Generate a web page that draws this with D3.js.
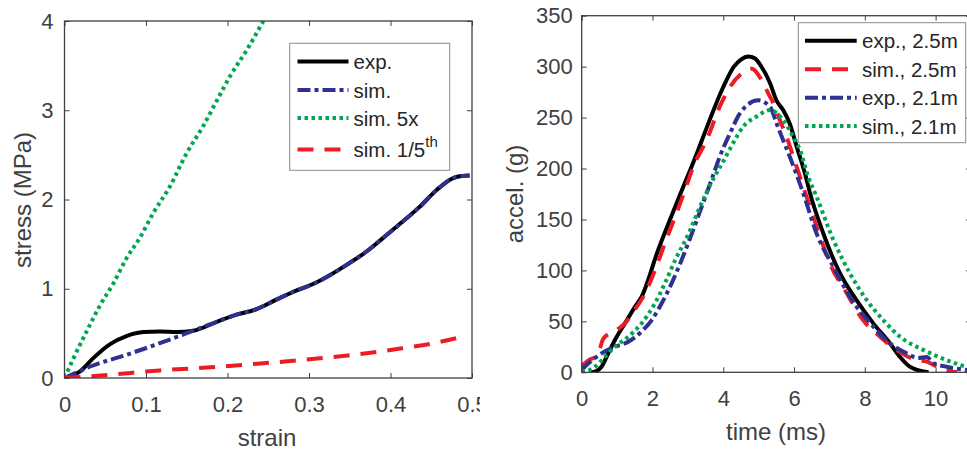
<!DOCTYPE html>
<html><head><meta charset="utf-8">
<script src="https://cdn.jsdelivr.net/npm/d3@7"></script>
<style>body{margin:0;background:#fff} svg{display:block} text{font-family:"Liberation Sans",Arial,sans-serif}</style>
</head><body><svg id="c" width="967" height="450"></svg>
<script>
// ---------- Left panel data (stress-strain) ----------
const strainExp = [0, 0.02, 0.035, 0.056, 0.076, 0.097, 0.117, 0.138, 0.158, 0.187, 0.211, 0.235, 0.245, 0.258, 0.277, 0.309, 0.35, 0.371, 0.391, 0.412, 0.436, 0.457, 0.477, 0.485, 0.497];
const stressExp = [0, 0.08, 0.22, 0.38, 0.47, 0.515, 0.52, 0.515, 0.53, 0.63, 0.71, 0.77, 0.81, 0.87, 0.95, 1.07, 1.29, 1.42, 1.57, 1.73, 1.92, 2.11, 2.24, 2.26, 2.27];
const strainSim = [0, 0.035, 0.076, 0.117, 0.158, 0.187, 0.211, 0.235, 0.245, 0.258, 0.277, 0.309, 0.35, 0.371, 0.391, 0.412, 0.436, 0.457, 0.477, 0.485, 0.497];
const stressSim = [0, 0.14, 0.26, 0.39, 0.53, 0.63, 0.71, 0.77, 0.81, 0.87, 0.95, 1.07, 1.29, 1.42, 1.57, 1.73, 1.92, 2.11, 2.24, 2.26, 2.27];
const strain5x = [0, 0.011, 0.027, 0.044, 0.06, 0.076, 0.093, 0.109, 0.129, 0.15, 0.17, 0.187, 0.203, 0.224, 0.244];
const stress5x = [0, 0.22, 0.52, 0.82, 1.06, 1.34, 1.58, 1.85, 2.14, 2.52, 2.82, 3.11, 3.38, 3.68, 4.0];
const strainFifth = [0, 0.048, 0.117, 0.179, 0.24, 0.289, 0.35, 0.412, 0.453, 0.485];
const stressFifth = [0, 0.03, 0.085, 0.12, 0.162, 0.2, 0.255, 0.33, 0.39, 0.455];
const leftLegend = ["exp.", "sim.", "sim. 5x", "sim. 1/5"];
const strainTicks = [0, 0.1, 0.2, 0.3, 0.4, 0.5];
const stressTicks = [0, 1, 2, 3, 4];

// ---------- Right panel data (acceleration-time) ----------
const tExp25 = [0.25, 0.4, 0.56, 0.75, 0.94, 1.22, 1.5, 1.69, 2.16, 2.73, 3.29, 3.62, 4.0, 4.3, 4.5, 4.71, 4.9, 5.04, 5.32, 5.5, 5.7, 5.88, 6.07, 6.31, 6.45, 6.83, 7.3, 7.76, 8.24, 8.71, 8.99, 9.27, 9.5, 9.8];
const aExp25 = [0, 1, 5.5, 18.6, 31.7, 48, 64, 74, 120, 170, 218, 248, 280, 300, 307, 310, 308, 302, 284, 267, 257, 244, 222, 195, 176, 136, 97, 71, 48, 28.5, 15.3, 5.5, 2, 0];
const tSim25 = [0, 0.2, 0.42, 0.52, 0.61, 0.99, 1.22, 1.46, 1.79, 2.07, 2.35, 2.64, 2.92, 3.15, 3.53, 3.9, 4.19, 4.47, 4.8, 5.08, 5.27, 5.46, 5.6, 5.79, 5.98, 6.26, 6.64, 7.01, 7.49, 7.95, 8.43, 8.9, 9.46, 9.75, 10.12, 10.6];
const aSim25 = [6, 12, 16, 24, 33, 41.5, 48, 59.5, 77.5, 100, 126.6, 152.7, 179, 201.8, 228, 260.7, 280, 291.8, 298, 287, 273.8, 260.7, 247.6, 231, 211.6, 182, 143, 107, 77.5, 51.3, 35, 22, 12, 10.5, 4, 0];
const tExp21 = [0, 0.19, 0.56, 0.94, 1.32, 1.69, 1.98, 2.26, 2.54, 2.82, 3.11, 3.39, 3.7, 3.9, 4.19, 4.47, 4.99, 5.32, 5.51, 5.69, 5.88, 6.26, 6.64, 7.11, 7.58, 8.24, 8.71, 9.18, 9.5, 9.75, 9.94, 10.31, 10.87, 11];
const aExp21 = [2.3, 8.8, 18.6, 25, 30, 40, 51.3, 67.7, 87.3, 110, 136, 162.5, 192, 211.6, 234.5, 254, 267, 260.7, 244, 228, 211.6, 175.7, 136, 103.6, 74, 44.8, 28.5, 18.6, 14, 15, 8.8, 5.5, 2.3, 2];
const tSim21 = [0, 0.09, 0.38, 0.66, 0.94, 1.32, 1.69, 2.07, 2.35, 2.64, 3.02, 3.3, 3.72, 4.0, 4.28, 4.56, 4.94, 5.32, 5.69, 5.98, 6.17, 6.4, 6.64, 7.11, 7.58, 8.05, 8.52, 8.99, 9.65, 10.31, 10.87, 11];
const aSim21 = [2, 1, 5.5, 15.3, 25, 35, 48, 67.7, 87.3, 110, 136, 159, 190, 207, 225, 241, 251, 257.4, 247.6, 231, 218, 192, 172, 130, 97, 71, 51.3, 35, 22, 12, 5.5, 4.5];
const rightLegend = ["exp., 2.5m", "sim., 2.5m", "exp., 2.1m", "sim., 2.1m"];
const timeTicks = [0, 2, 4, 6, 8, 10];
const accelTicks = [0, 50, 100, 150, 200, 250, 300, 350];

// ---------- styles ----------
const AX = "#404040";
const C = {black: "#000000", blue: "#2e3192", green: "#00a651", red: "#ed1c24"};
const DASH = {solid: null, dashdot: "13,4,4,4", dotted: "3.5,3.5", dashed: "16,11"};
const LW = 4;

const svg = d3.select("#c");
svg.append("rect").attr("width", 967).attr("height", 450).attr("fill", "#fff");

function zip(xs, ys) { return xs.map((v, i) => [v, ys[i]]); }

function panel(opts) {
  const g = svg.append("g");
  if (opts.bg) g.append("rect").attr("x", opts.bg[0]).attr("y", 0).attr("width", opts.bg[1]).attr("height", 450).attr("fill", "#fff");
  const x = d3.scaleLinear().domain(opts.xDom).range(opts.xRange);
  const y = d3.scaleLinear().domain(opts.yDom).range(opts.yRange);
  const [x0, x1] = opts.xRange, [y1, y0] = opts.yRange;
  const id = "clip" + opts.name;
  g.append("clipPath").attr("id", id).append("rect")
    .attr("x", x0).attr("y", y0).attr("width", x1 - x0).attr("height", y1 - y0);

  const line = d3.line().x(d => x(d[0])).y(d => y(d[1])).curve(d3.curveMonotoneX);
  const lg = g.append("g").attr("clip-path", `url(#${id})`);
  opts.series.forEach(s => {
    lg.append("path").attr("d", line(zip(s.x, s.y)))
      .attr("fill", "none").attr("stroke", s.color).attr("stroke-width", LW)
      .attr("stroke-linejoin", "round")
      .attr("stroke-dasharray", DASH[s.style]);
  });

  // axes
  const styleAxis = sel => {
    sel.select(".domain").remove();
    sel.selectAll(".tick line").attr("stroke", AX).attr("stroke-width", 1);
    sel.selectAll(".tick text").attr("fill", AX).attr("font-size", 22)
      .attr("font-family", '"Liberation Sans",Arial,sans-serif');
  };
  g.append("g").attr("transform", `translate(0,${y1})`)
    .call(d3.axisBottom(x).tickValues(opts.xTicks).tickSizeInner(-5).tickSizeOuter(0).tickPadding(opts.xPad).tickFormat(d3.format(opts.xFmt)))
    .call(styleAxis);
  g.append("g").attr("transform", `translate(0,${y0})`)
    .call(d3.axisTop(x).tickValues(opts.xTicks).tickSizeInner(-5).tickSizeOuter(0).tickFormat(""))
    .call(styleAxis);
  g.append("g").attr("transform", `translate(${x0},0)`)
    .call(d3.axisLeft(y).tickValues(opts.yTicks).tickSizeInner(-5).tickSizeOuter(0).tickPadding(opts.yPad).tickFormat(d3.format("d")))
    .call(styleAxis);
  g.append("g").attr("transform", `translate(${x1},0)`)
    .call(d3.axisRight(y).tickValues(opts.yTicks).tickSizeInner(-5).tickSizeOuter(0).tickFormat(""))
    .call(styleAxis);
  g.append("rect").attr("x", x0).attr("y", y0).attr("width", x1 - x0).attr("height", y1 - y0)
    .attr("fill", "none").attr("stroke", AX).attr("stroke-width", 1.3);

  // labels
  g.append("text").attr("x", opts.xLabel[1]).attr("y", opts.xLabel[2]).attr("text-anchor", "middle")
    .attr("font-size", 24).attr("fill", AX).text(opts.xLabel[0]);
  g.append("text").attr("transform", `translate(${opts.yLabel[1]},${opts.yLabel[2]}) rotate(-90)`)
    .attr("text-anchor", "middle").attr("font-size", 24).attr("fill", AX).text(opts.yLabel[0]);

  // legend
  const L = opts.legend;
  g.append("rect").attr("x", L.box[0]).attr("y", L.box[1]).attr("width", L.box[2]).attr("height", L.box[3])
    .attr("fill", "#fff").attr("stroke", "#8c8c8c").attr("stroke-width", 1);
  opts.series.forEach((s, i) => {
    const ly = L.ys[i];
    g.append("line").attr("x1", L.lx[0]).attr("x2", L.lx[1]).attr("y1", ly).attr("y2", ly)
      .attr("stroke", s.color).attr("stroke-width", LW).attr("stroke-dasharray", DASH[s.style]);
    const t = g.append("text").attr("x", L.tx).attr("y", ly + 7.5).attr("font-size", 20.5).attr("fill", "#262626").text(L.labels[i]);
    if (L.sup && L.sup[i]) t.append("tspan").attr("font-size", 15).attr("dy", -10).text(L.sup[i]);
  });
  return g;
}

panel({
  name: "L",
  xDom: [0, 0.5], xRange: [64.5, 472],
  yDom: [0, 4], yRange: [378, 21],
  xTicks: strainTicks, yTicks: stressTicks, xFmt: "", xPad: 18.5, yPad: 11,
  xLabel: ["strain", 267, 445.5], yLabel: ["stress (MPa)", 30.5, 200],
  series: [
    {x: strainExp, y: stressExp, color: C.black, style: "solid"},
    {x: strainSim, y: stressSim, color: C.blue, style: "dashdot"},
    {x: strain5x, y: stress5x, color: C.green, style: "dotted"},
    {x: strainFifth, y: stressFifth, color: C.red, style: "dashed"}
  ],
  legend: {box: [289.7, 43.3, 160, 127], lx: [297.5, 348.5], tx: 353.5, ys: [61.5, 90, 118, 149.5],
           labels: leftLegend, sup: [null, null, null, "th"]}
});

panel({
  name: "R", bg: [480, 487],
  xDom: [0, 11], xRange: [581.7, 971],
  yDom: [0, 350], yRange: [372.3, 15.7],
  xTicks: timeTicks, yTicks: accelTicks, xFmt: "d", xPad: 17.8, yPad: 9,
  xLabel: ["time (ms)", 776, 440], yLabel: ["accel. (g)", 523, 194],
  series: [
    {x: tExp25, y: aExp25, color: C.black, style: "solid"},
    {x: tSim25, y: aSim25, color: C.red, style: "dashed"},
    {x: tExp21, y: aExp21, color: C.blue, style: "dashdot"},
    {x: tSim21, y: aSim21, color: C.green, style: "dotted"}
  ],
  legend: {box: [798.3, 22.7, 167.4, 120], lx: [805, 856.7], tx: 862, ys: [40.7, 69.3, 97.7, 126],
           labels: rightLegend}
});
</script></body></html>
